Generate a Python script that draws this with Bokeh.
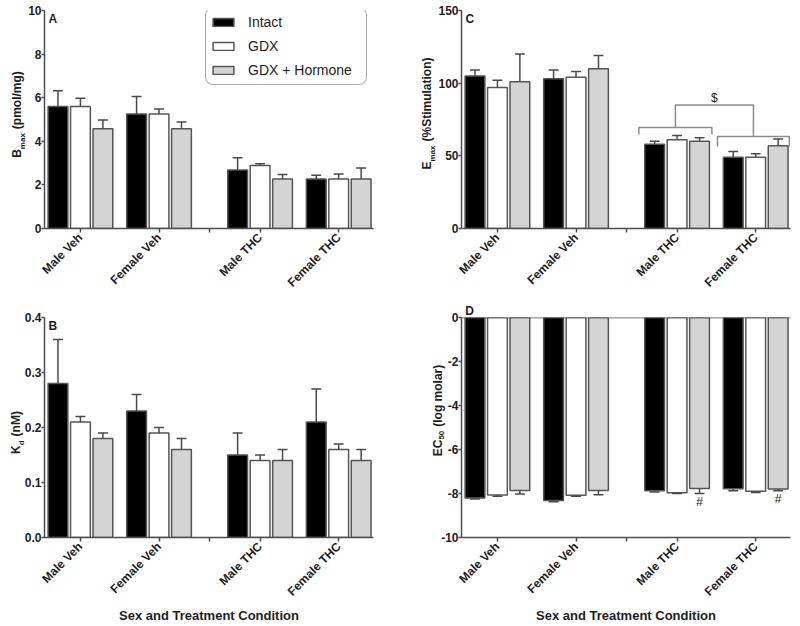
import numpy as np
from bokeh.plotting import figure
from bokeh.models import (Range1d, FixedTicker, Label, Legend, LegendItem, Span,
                          NumeralTickFormatter, LinearAxis)
from bokeh.layouts import gridplot
from bokeh.embed import file_html
from bokeh.resources import INLINE
from bokeh.core.properties import value

# ---------------- data ----------------
groups = ["Male Veh", "Female Veh", "Male THC", "Female THC"]
series = ["Intact", "GDX", "GDX + Hormone"]

# A: Bmax (pmol/mg)
bmax_intact = [5.60, 5.25, 2.68, 2.27]
bmax_intact_sem = [0.72, 0.80, 0.56, 0.17]
bmax_gdx = [5.60, 5.25, 2.89, 2.27]
bmax_gdx_sem = [0.38, 0.23, 0.08, 0.23]
bmax_horm = [4.57, 4.57, 2.27, 2.27]
bmax_horm_sem = [0.41, 0.32, 0.21, 0.50]

# B: Kd (nM)
kd_intact = [0.28, 0.23, 0.15, 0.21]
kd_intact_sem = [0.08, 0.03, 0.04, 0.06]
kd_gdx = [0.21, 0.19, 0.14, 0.16]
kd_gdx_sem = [0.01, 0.01, 0.01, 0.01]
kd_horm = [0.18, 0.16, 0.14, 0.14]
kd_horm_sem = [0.01, 0.02, 0.02, 0.02]

# C: Emax (% stimulation)
emax_intact = [105, 103, 58, 49]
emax_intact_sem = [4, 6, 2, 4]
emax_gdx = [97, 104, 61, 49]
emax_gdx_sem = [5, 4, 3, 2.5]
emax_horm = [101, 110, 60, 57]
emax_horm_sem = [19, 9, 2.5, 4.5]

# D: EC50 (log molar)
ec50_intact = [-8.20, -8.32, -7.88, -7.78]
ec50_intact_sem = [0.05, 0.05, 0.05, 0.10]
ec50_gdx = [-8.07, -8.08, -7.97, -7.90]
ec50_gdx_sem = [0.06, 0.04, 0.03, 0.05]
ec50_horm = [-7.86, -7.86, -7.77, -7.80]
ec50_horm_sem = [0.16, 0.20, 0.23, 0.07]
ec50_horm_sig = ["", "", "#", "#"]

yticks_a = [0, 2, 4, 6, 8, 10]
yticks_b = [0.0, 0.1, 0.2, 0.3, 0.4]
yticks_c = [0, 50, 100, 150]
yticks_d = [0, -2, -4, -6, -8, -10]

# ---------------- style / layout ----------------
FONT = "Liberation Sans"
TXT = "#1e1e1e"
AXC = "#4d4d4d"
FILLS = ["#000000", "#ffffff", "#d4d4d4"]
BAR_LINE = "#555555"
ERR = "#4a4a4a"
GROUP_X = [1.0, 4.5, 9.0, 12.5]
GAP_TICK = 6.75
OFFS = [-1.0, 0.0, 1.0]
BW = 0.88
CAP = 0.22
XSTART, XEND = -0.6, 14.05
FW = 329
PXX = FW / (XEND - XSTART)
GAP_PX = 4.0

AB = {' ': 278, '(': 333, ')': 333, '%': 889, '/': 278, 'B': 722, 'C': 722, 'D': 722,
      'E': 667, 'K': 722, 'S': 667, 'M': 833, 'a': 556, 'd': 611, 'e': 556, 'g': 611,
      'i': 278, 'l': 278, 'm': 889, 'n': 611, 'o': 611, 'p': 611, 'r': 389, 't': 333,
      'u': 611, 'x': 556}


def tw(s, size):
    return sum(AB.get(c, 556) for c in s) * size / 1000.0


def text_axis(ticks_map, size, standoff, side_vertical=True):
    ax = LinearAxis(ticker=FixedTicker(ticks=list(ticks_map.keys())),
                    major_label_overrides=ticks_map,
                    major_label_orientation="parallel" if side_vertical else "horizontal",
                    major_label_standoff=standoff,
                    major_label_text_font=FONT, major_label_text_font_style="bold",
                    major_label_text_font_size=f"{size}px", major_label_text_color=TXT,
                    axis_line_color=None, major_tick_line_color=None,
                    minor_tick_line_color=None, major_tick_out=0, major_tick_in=0,
                    minor_tick_out=0, minor_tick_in=0)
    return ax


def panel(means, sems, y0, y1, yticks, yfmt, ylab, lab_from_top, sub_off, main_off, letter,
          fh, left, right, top, bottom, xtitle=None, down=False, letter_above=False):
    p = figure(frame_width=FW, frame_height=fh, x_range=Range1d(XSTART, XEND),
               y_range=Range1d(y0, y1), output_backend="svg", toolbar_location=None,
               min_border_left=left, min_border_right=right, min_border_top=top,
               min_border_bottom=bottom)
    p.outline_line_color = None
    p.grid.grid_line_color = None
    rends = []
    for k in range(3):
        xs = [g + OFFS[k] for g in GROUP_X]
        m = means[k]
        s = sems[k]
        if down:
            r = p.vbar(x=xs, width=BW, top=0, bottom=m, fill_color=FILLS[k],
                       line_color=BAR_LINE, line_width=1.5)
            ends = [a - b for a, b in zip(m, s)]
        else:
            r = p.vbar(x=xs, width=BW, top=m, bottom=0, fill_color=FILLS[k],
                       line_color=BAR_LINE, line_width=1.5)
            ends = [a + b for a, b in zip(m, s)]
        p.segment(x0=xs, y0=m, x1=xs, y1=ends, line_color=ERR, line_width=1.5)
        p.segment(x0=[x - CAP for x in xs], y0=ends, x1=[x + CAP for x in xs], y1=ends,
                  line_color=ERR, line_width=1.5)
        rends.append((r, xs, ends))

    for ax in (p.xaxis[0], p.yaxis[0]):
        ax.axis_line_color = AXC
        ax.axis_line_width = 1.5
        ax.major_tick_line_color = AXC
        ax.major_tick_line_width = 1.5
        ax.major_tick_in = 0
        ax.minor_tick_line_color = None
        ax.major_label_text_font = FONT
        ax.major_label_text_font_style = "bold"
        ax.major_label_text_color = TXT
        ax.major_label_text_font_size = "12px"

    xa = p.xaxis[0]
    xa.major_tick_out = 4
    xa.ticker = FixedTicker(ticks=GROUP_X + [GAP_TICK])
    ov = {g: n for g, n in zip(GROUP_X, groups)}
    ov[GAP_TICK] = ""
    xa.major_label_overrides = ov
    xa.major_label_orientation = np.pi / 4
    xa.major_label_standoff = 3
    if xtitle:
        xa.axis_label = xtitle
        xa.axis_label_text_font = FONT
        xa.axis_label_text_font_style = "bold"
        xa.axis_label_text_font_size = "13px"
        xa.axis_label_text_color = TXT
        xa.axis_label_standoff = 2

    ya = p.yaxis[0]
    ya.major_tick_out = 3
    ya.ticker = FixedTicker(ticks=yticks)
    ya.formatter = NumeralTickFormatter(format=yfmt)
    ya.major_label_standoff = 0

    # y-axis title with subscript: two text-only axes (subscript inner, main outer)
    def piece_len(t, sz):
        return (GAP_PX if t.startswith(" ") else 0.0) + tw(t.strip(), sz)

    total = sum(piece_len(t, sz) for t, sz, sub in ylab)
    ypx = (fh - lab_from_top) - total / 2.0
    main_map, sub_map = {}, {}
    for t, sz, sub in ylab:
        lead = GAP_PX if t.startswith(" ") else 0.0
        c = ypx + lead + tw(t.strip(), sz) / 2.0
        yv = round(y0 + c / fh * (y1 - y0), 6)
        (sub_map if sub else main_map)[yv] = t.strip()
        ypx += piece_len(t, sz)
    p.add_layout(text_axis(sub_map, 8, sub_off), "left")
    p.add_layout(text_axis(main_map, 12, main_off), "left")

    # panel letter
    if letter_above:
        lx = round(XSTART + 8.0 / PXX, 6)
        p.add_layout(text_axis({lx: letter}, 12, 0, side_vertical=False), "above")
    else:
        p.add_layout(Label(x=4, y=fh - 1, x_units="screen", y_units="screen", text=letter,
                           text_baseline="top", text_font=FONT, text_font_style="bold",
                           text_font_size="12px", text_color=TXT))
    return p, rends


# Panel A
pA, rA = panel([bmax_intact, bmax_gdx, bmax_horm],
               [bmax_intact_sem, bmax_gdx_sem, bmax_horm_sem],
               0, 10, yticks_a, "0", [("B", 12, False), ("max", 8, True), (" (pmol/mg)", 12, False)],
               104, -2, -9, "A", 218, 44, 27, 10, 72)
legend = Legend(items=[LegendItem(label=series[k], renderers=[rA[k][0]]) for k in range(3)],
                location=(161, 143), padding=4, spacing=4, glyph_width=26, glyph_height=10,
                label_height=20, label_width=114, label_standoff=12, margin=0,
                label_text_font=FONT, label_text_font_size="14px", label_text_color=TXT,
                border_line_color="#5a5a5a", border_line_width=1.5,
                background_fill_color="white", background_fill_alpha=1.0)
if "border_radius" in Legend.properties():
    legend.border_radius = 8
pA.add_layout(legend)

# Panel C
pC, rC = panel([emax_intact, emax_gdx, emax_horm],
               [emax_intact_sem, emax_gdx_sem, emax_horm_sem],
               0, 150, yticks_c, "0", [("E", 12, False), ("max", 8, True), (" (%Stimulation)", 12, False)],
               103, -2, -9, "C", 218, 61, 6, 10, 72)
BRC = "#8c8c8c"
mx0, mx1 = GROUP_X[2] - 1.7, GROUP_X[2] + 1.55
fx0, fx1 = GROUP_X[3] - 1.7, GROUP_X[3] + 1.5
mmid, fmid = (mx0 + mx1) / 2, (fx0 + fx1) / 2
pC.multi_line(xs=[[mx0, mx0, mx1, mx1], [fx0, fx0, fx1, fx1], [mmid, mmid, fmid, fmid]],
              ys=[[64.7, 69.5, 69.5, 64.7], [56.4, 63.3, 63.3, 56.4], [69.5, 85.0, 85.0, 63.3]],
              line_color=BRC, line_width=1.5)
pC.text(x=[(mmid + fmid) / 2], y=[89.5], text=["$"], text_align="center",
        text_baseline="middle", text_font=value(FONT), text_font_size="12px", text_color=TXT)

# Panel B
pB, rB = panel([kd_intact, kd_gdx, kd_horm],
               [kd_intact_sem, kd_gdx_sem, kd_horm_sem],
               0, 0.4, yticks_b, "0.0", [("K", 12, False), ("d", 8, True), (" (nM)", 12, False)],
               115, -5, -9, "B", 220, 44, 27, 17, 60, xtitle="Sex and Treatment Condition")

# Panel D
pD, rD = panel([ec50_intact, ec50_gdx, ec50_horm],
               [ec50_intact_sem, ec50_gdx_sem, ec50_horm_sem],
               -10, 0, yticks_d, "0", [("EC", 12, False), ("50", 8, True), (" (log molar)", 12, False)],
               93, -6, -9, "D", 220, 61, 6, 17, 60, xtitle="Sex and Treatment Condition", down=True,
               letter_above=True)
pD.add_layout(Span(location=0, dimension="width", line_color=AXC, line_width=1.5))
hx, hend = rD[2][1], rD[2][2]
sx = [x for x, s in zip(hx, ec50_horm_sig) if s]
sy = [e - 0.4 for e, s in zip(hend, ec50_horm_sig) if s]
st = [s for s in ec50_horm_sig if s]
pD.text(x=sx, y=sy, text=st, text_align="center", text_baseline="middle",
        text_font=value(FONT), text_font_size="12px", text_color=TXT)

layout = gridplot([[pA, pC], [pB, pD]], toolbar_location=None)
open("out.html", "w").write(file_html(layout, INLINE))
